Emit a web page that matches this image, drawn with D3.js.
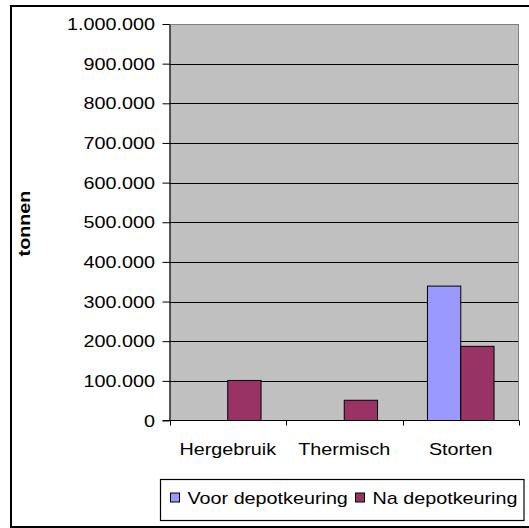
<!DOCTYPE html>
<html>
<head>
<meta charset="utf-8">
<script src="https://cdn.jsdelivr.net/npm/d3@7/dist/d3.min.js"></script>
<style>
  html, body { margin: 0; padding: 0; background: #fff; }
  svg { display: block; }
  text { font-family: "Liberation Sans", Arial, sans-serif; fill: #000; }
</style>
</head>
<body>
<svg id="chart" width="529" height="528"></svg>
<script>
// Afvalstromen in tonnen, voor en na depotkeuring
const categories = ["Hergebruik", "Thermisch", "Storten"];
const seriesNames = ["Voor depotkeuring", "Na depotkeuring"];
const voorValues = [null, null, 339000];
const naValues = [101000, 51000, 187000];
const yTicks = [0, 100000, 200000, 300000, 400000, 500000, 600000, 700000, 800000, 900000, 1000000];
const yLabel = "tonnen";

const colors = ["#9999FF", "#993366"];
const FS = 16.2, SX = 1.22;   // font size and horizontal stretch of the text

const nl = d3.formatLocale({ decimal: ",", thousands: ".", grouping: [3], currency: ["€ ", ""] });
const fmt = nl.format(",");

const svg = d3.select("#chart");

// outer chart border
svg.append("rect")
  .attr("x", 11).attr("y", 6).attr("width", 530).attr("height", 521)
  .attr("fill", "#fff").attr("stroke", "#000").attr("stroke-width", 2);

const plot = { left: 169.5, right: 519, top: 24, bottom: 420.5 };

const x = d3.scaleBand().domain(categories).range([plot.left, plot.right]).paddingInner(0).paddingOuter(0);
const xs = d3.scaleBand().domain(seriesNames).range([0, x.bandwidth()]).paddingInner(0).paddingOuter(0.75);
const y = d3.scaleLinear().domain([0, 1000000]).range([plot.bottom, plot.top]);

// plot area
svg.append("rect")
  .attr("x", plot.left).attr("y", plot.top)
  .attr("width", plot.right - plot.left).attr("height", plot.bottom - plot.top)
  .attr("fill", "#C0C0C0");

// gridlines
svg.append("g").selectAll("line")
  .data(yTicks.filter(v => v > 0 && v < 1000000))
  .join("line")
  .attr("x1", plot.left).attr("x2", plot.right)
  .attr("y1", d => Math.round(y(d)) + 0.5).attr("y2", d => Math.round(y(d)) + 0.5)
  .attr("stroke", "#000").attr("stroke-width", 1);

// plot border (top and right)
svg.append("path")
  .attr("d", `M${plot.left},${plot.top + 0.5}H${plot.right - 0.5}V${plot.bottom}`)
  .attr("fill", "none").attr("stroke", "#808080").attr("stroke-width", 1);

// bars
const rows = categories.map((c, i) => ({ cat: c, values: [voorValues[i], naValues[i]] }));
const groups = svg.append("g").selectAll("g")
  .data(rows).join("g")
  .attr("transform", d => `translate(${x(d.cat)},0)`);
groups.selectAll("rect")
  .data(d => d.values.map((v, j) => ({ name: seriesNames[j], v, j })).filter(e => e.v != null))
  .join("rect")
  .attr("x", d => xs(d.name))
  .attr("y", d => y(d.v))
  .attr("width", xs.bandwidth())
  .attr("height", d => y(0) - y(d.v))
  .attr("fill", d => colors[d.j])
  .attr("stroke", "#000").attr("stroke-width", 1);

// y axis
const yAxis = svg.append("g")
  .attr("transform", `translate(${plot.left},0)`)
  .call(d3.axisLeft(y).tickValues(yTicks).tickFormat(fmt).tickSize(7).tickSizeOuter(0));
yAxis.select(".domain").attr("stroke", "#000").attr("stroke-width", 1.2);
yAxis.selectAll(".tick line").attr("stroke", "#000");
yAxis.selectAll(".tick text")
  .attr("x", null).attr("dy", "0.35em")
  .attr("transform", `translate(-14.5,0) scale(${SX},1)`)
  .attr("text-anchor", "end")
  .style("font-size", FS + "px")
  .style("font-family", "'Liberation Sans', Arial, sans-serif");

// x axis line, boundary ticks, and category labels
const xAxis = svg.append("g");
xAxis.append("line")
  .attr("x1", plot.left - 7).attr("x2", plot.right)
  .attr("y1", plot.bottom).attr("y2", plot.bottom)
  .attr("stroke", "#000").attr("stroke-width", 1.2);
const bounds = categories.map(c => x(c)).concat([x.range()[1]]);
xAxis.selectAll("line.tk")
  .data(bounds).join("line").attr("class", "tk")
  .attr("x1", d => Math.round(d) + 0.5).attr("x2", d => Math.round(d) + 0.5)
  .attr("y1", plot.bottom).attr("y2", plot.bottom + 5)
  .attr("stroke", "#000");
xAxis.selectAll("text")
  .data(categories).join("text")
  .attr("transform", d => `translate(${x(d) + x.bandwidth() / 2},455) scale(${SX},1)`)
  .attr("text-anchor", "middle")
  .style("font-size", FS + "px")
  .text(d => d);

// y axis title
svg.append("text")
  .attr("transform", `translate(30,223.5) rotate(-90) scale(${SX},1)`)
  .attr("text-anchor", "middle")
  .style("font-size", FS + "px")
  .style("font-weight", "bold")
  .text(yLabel);

// legend
const legend = svg.append("g");
legend.append("rect")
  .attr("x", 160.5).attr("y", 479.5).attr("width", 363.5).attr("height", 41)
  .attr("fill", "#fff").attr("stroke", "#000").attr("stroke-width", 1.2);
const legendX = [170, 355];
const items = legend.selectAll("g.item")
  .data(seriesNames).join("g").attr("class", "item")
  .attr("transform", (d, i) => `translate(${legendX[i]},0)`);
items.append("rect")
  .attr("x", 0.5).attr("y", 493).attr("width", 9).attr("height", 9)
  .attr("fill", (d, i) => colors[i]).attr("stroke", "#000").attr("stroke-width", 1);
items.append("text")
  .attr("transform", `translate(17.5,503.5) scale(${SX},1)`)
  .style("font-size", FS + "px")
  .text(d => d);
</script>
</body>
</html>
